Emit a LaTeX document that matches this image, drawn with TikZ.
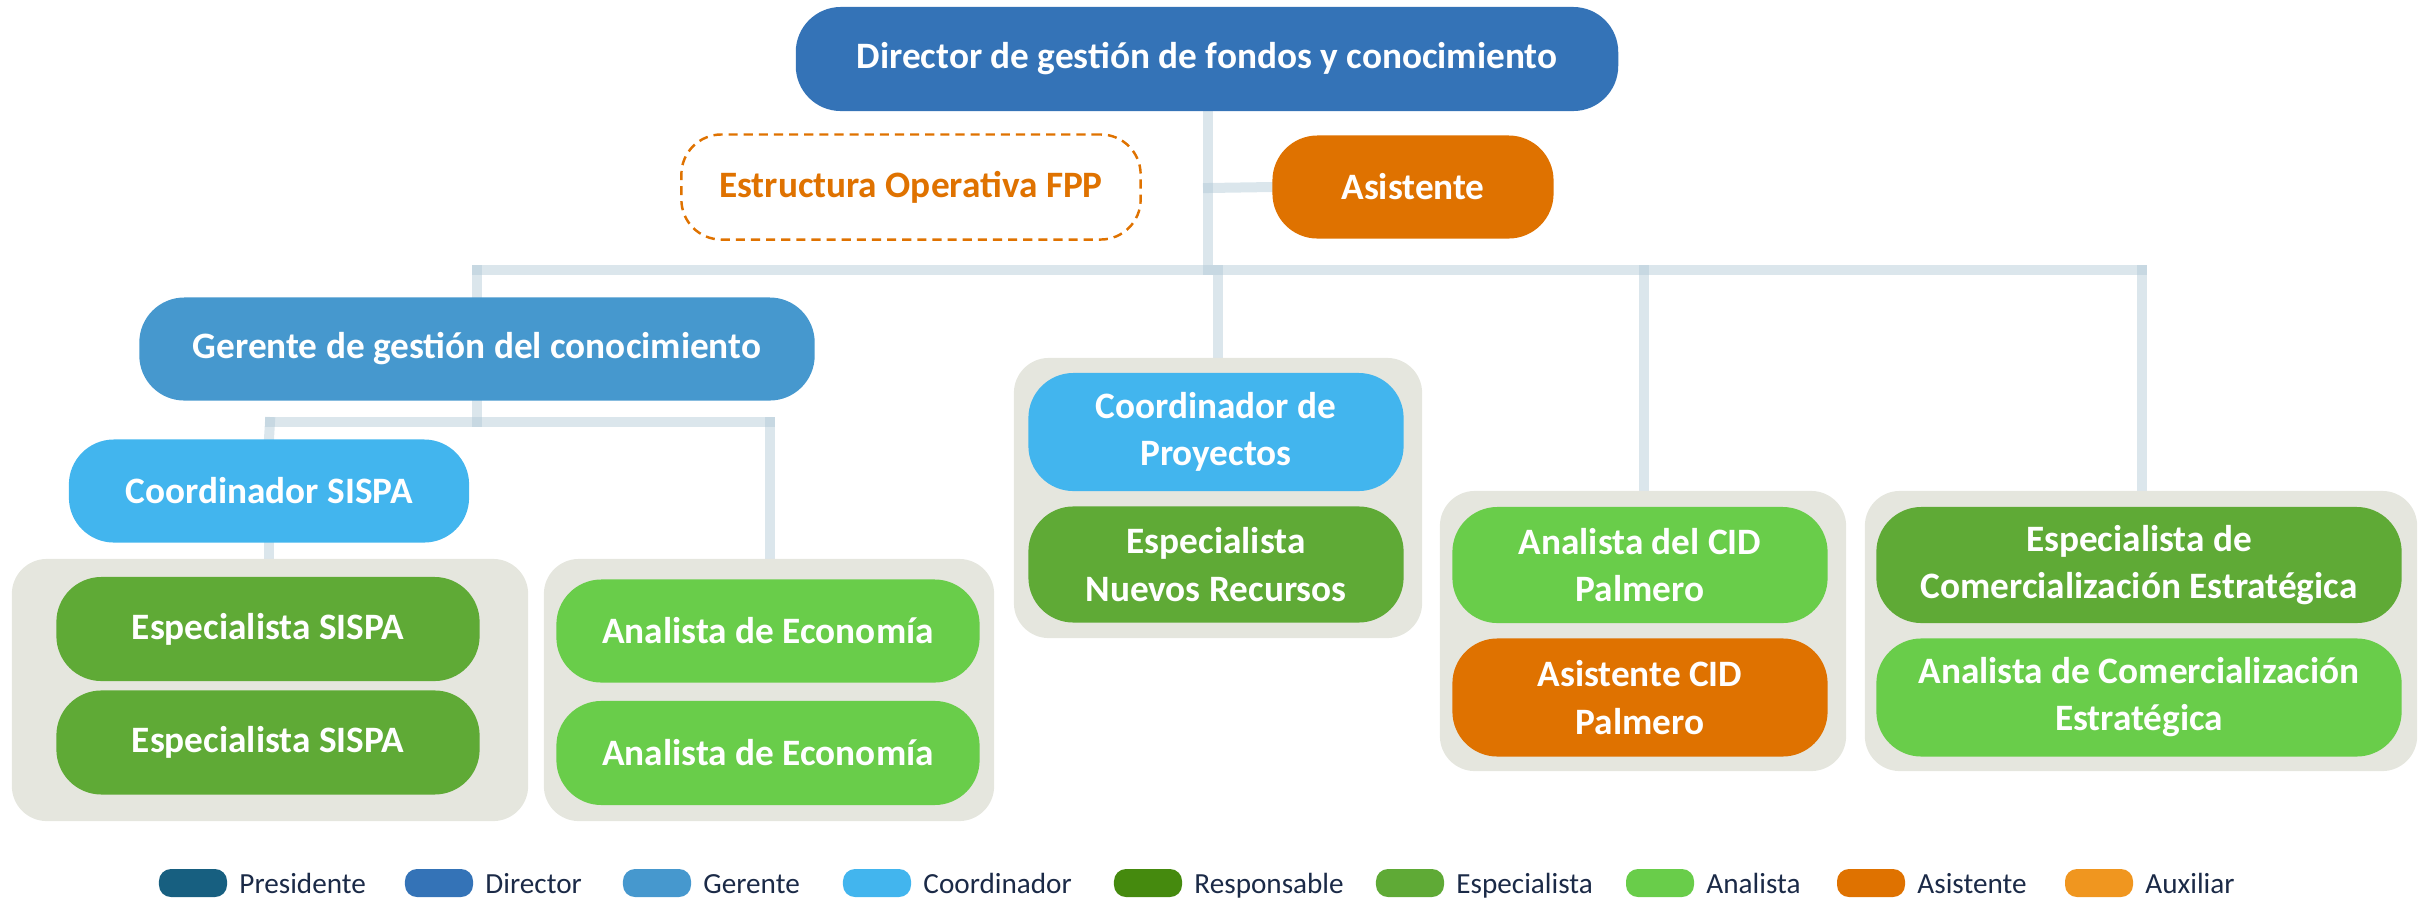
\documentclass[tikz,border=0pt]{standalone}
\usepackage{fontspec}
\setmainfont{Carlito}
\usepackage{tikz}
\usetikzlibrary{positioning, backgrounds}
\definecolor{cpresidente}{HTML}{175F80}
\definecolor{cdirector}{HTML}{3473B7}
\definecolor{cgerente}{HTML}{4698CE}
\definecolor{ccoord}{HTML}{42B5EE}
\definecolor{cresp}{HTML}{458A0E}
\definecolor{cesp}{HTML}{5FAA36}
\definecolor{cana}{HTML}{69CD4A}
\definecolor{casis}{HTML}{DF7200}
\definecolor{caux}{HTML}{F0961F}
\definecolor{cgrupo}{HTML}{E5E6DE}
\definecolor{cenlace}{RGB}{175,199,213}
\definecolor{cleyenda}{HTML}{1B2A47}
\tikzstyle{role} = [rectangle, rounded corners=0.45cm, align=center, text=white, inner sep=0pt, font=\bfseries\fontsize{10.6}{13.4}\selectfont]
\tikzstyle{director} = [role, fill=cdirector]
\tikzstyle{gerente} = [role, fill=cgerente]
\tikzstyle{coordinador} = [role, fill=ccoord]
\tikzstyle{especialista} = [role, fill=cesp]
\tikzstyle{analista} = [role, fill=cana]
\tikzstyle{asistente} = [role, fill=casis]
\tikzstyle{externo} = [role, text=casis, draw=casis, line width=0.7pt, dash pattern=on 2.6pt off 1.7pt, rounded corners=0.4cm]
\tikzstyle{grupo} = [rectangle, rounded corners=0.35cm, fill=cgrupo, inner sep=0pt]
\tikzstyle{enlace} = [line width=0.1cm, draw=cenlace, draw opacity=0.45, line cap=rect]
\tikzstyle{muestra} = [rectangle, rounded corners=0.12cm, minimum width=0.68cm, minimum height=0.28cm, inner sep=0pt]
\tikzstyle{leyenda} = [font=\fontsize{8.3}{10}\selectfont, text=cleyenda, inner sep=0pt, text height=1.6ex, text depth=0.4ex]
\begin{document}
\begin{tikzpicture}[x=0.01cm, y=-0.01cm]
\useasboundingbox (0,0) rectangle (2430,902);

% cabecera
\node [director, minimum width=8.22cm, minimum height=1.04cm] (dir) at (1207,59) {Director de gestión de fondos y conocimiento};
\node [externo, minimum width=4.59cm, minimum height=1.05cm] (est) at (911,187) {Estructura Operativa FPP};
\node [asistente, minimum width=2.81cm, minimum height=1.03cm] (asis) at (1413,187) {Asistente};

% rama del conocimiento
\node [gerente, minimum width=6.75cm, minimum height=1.03cm] (ger) at (477,349) {Gerente de gestión del conocimiento};
\node [coordinador, minimum width=4.00cm, minimum height=1.03cm] (csispa) at (269,491) {Coordinador SISPA};

\node [grupo, minimum width=5.16cm, minimum height=2.62cm] (grpA) at (270,690) {};
\node [especialista, minimum width=4.23cm, minimum height=1.04cm] (esp1) at (268,629) {Especialista SISPA};
\node [especialista, minimum width=4.23cm, minimum height=1.04cm] (esp2) [below=0.08cm of esp1] {Especialista SISPA};

\node [grupo, minimum width=4.50cm, minimum height=2.62cm] (grpB) at (769,690) {};
\node [analista, minimum width=4.23cm, minimum height=1.03cm] (ana1) at (768,631) {Analista de Economía};
\node [analista, minimum width=4.23cm, minimum height=1.04cm] (ana2) [below=0.17cm of ana1] {Analista de Economía};

% proyectos
\node [grupo, minimum width=4.08cm, minimum height=2.80cm] (grpC) at (1218,498) {};
\node [coordinador, minimum width=3.75cm, minimum height=1.18cm] (cproy) at (1216,432) {Coordinador de\\Proyectos};
\node [especialista, minimum width=3.75cm, minimum height=1.16cm] (enr) [below=0.14cm of cproy] {Especialista\\Nuevos Recursos};

% CID
\node [grupo, minimum width=4.06cm, minimum height=2.80cm] (grpD) at (1643,631) {};
\node [analista, minimum width=3.75cm, minimum height=1.16cm] (acid) at (1640,565) {Analista del CID\\Palmero};
\node [asistente, minimum width=3.75cm, minimum height=1.18cm] (asid) [below=0.14cm of acid] {Asistente CID\\Palmero};

% comercializacion
\node [grupo, minimum width=5.52cm, minimum height=2.80cm] (grpE) at (2141,631) {};
\node [especialista, minimum width=5.25cm, minimum height=1.16cm] (ecom) at (2139,565) {Especialista de\\Comercialización Estratégica};
\node [analista, minimum width=5.25cm, minimum height=1.18cm] (acom) [below=0.14cm of ecom] {Analista de Comercialización\\Estratégica};

% puntos de las barras
\coordinate (jAsis) at (1208,188);
\coordinate (busL) at (477,270);
\coordinate (busC) at (1218,270);
\coordinate (busD) at (1644,270);
\coordinate (busR) at (2142,270);
\coordinate (subL) at (270,422);
\coordinate (subM) at (477,422);
\coordinate (subR) at (770,422);

\begin{scope}[on background layer]
\draw [enlace] (1208,111) -- (1208,270);
\draw [enlace] (jAsis) -- (asis.west);
\draw [enlace] (busL) -- (busR);
\draw [enlace] (busL) -- (ger.north);
\draw [enlace] (busC) -- (busC |- grpC.north);
\draw [enlace] (busD) -- (busD |- grpD.north);
\draw [enlace] (busR) -- (busR |- grpE.north);
\draw [enlace] (ger.south) -- (subM);
\draw [enlace] (subL) -- (subR);
\draw [enlace] (subL) -- (csispa.north);
\draw [enlace] (csispa.south) -- (csispa.south |- grpA.north);
\draw [enlace] (subR) -- (subR |- grpB.north);
\end{scope}

% leyenda
\node [muestra, fill=cpresidente] (mPres) at (193,883) {};
\node [leyenda] (tPres) [right=0.11cm of mPres] {Presidente};
\node [muestra, fill=cdirector] (mDir) at (439,883) {};
\node [leyenda] (tDir) [right=0.11cm of mDir] {Director};
\node [muestra, fill=cgerente] (mGer) at (657,883) {};
\node [leyenda] (tGer) [right=0.11cm of mGer] {Gerente};
\node [muestra, fill=ccoord] (mCoord) at (877,883) {};
\node [leyenda] (tCoord) [right=0.11cm of mCoord] {Coordinador};
\node [muestra, fill=cresp] (mResp) at (1148,883) {};
\node [leyenda] (tResp) [right=0.11cm of mResp] {Responsable};
\node [muestra, fill=cesp] (mEsp) at (1410,883) {};
\node [leyenda] (tEsp) [right=0.11cm of mEsp] {Especialista};
\node [muestra, fill=cana] (mAna) at (1660,883) {};
\node [leyenda] (tAna) [right=0.11cm of mAna] {Analista};
\node [muestra, fill=casis] (mAsis) at (1871,883) {};
\node [leyenda] (tAsis) [right=0.11cm of mAsis] {Asistente};
\node [muestra, fill=caux] (mAux) at (2099,883) {};
\node [leyenda] (tAux) [right=0.11cm of mAux] {Auxiliar};
\end{tikzpicture}
\end{document}
